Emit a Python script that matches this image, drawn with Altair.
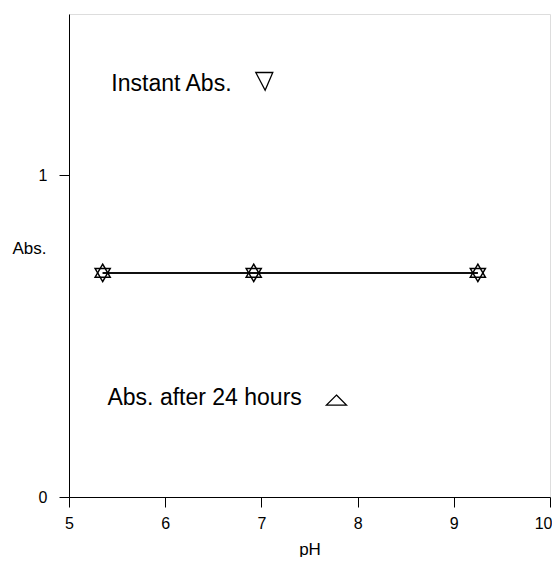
import altair as alt
import pandas as pd

# Data
ph = [5.35, 6.92, 9.25]
abs_instant = [0.696, 0.696, 0.696]
abs_24h = [0.696, 0.696, 0.696]

# Legend-like annotations inside the plot (data coordinates)
ann_text = ["Instant Abs.", "Abs. after 24 hours"]
ann_text_x = [5.44, 5.40]
ann_text_y = [1.283, 0.307]
ann_sym_x = [7.03, 7.78]
ann_sym_y = [1.292, 0.301]

df = pd.DataFrame({"pH": ph, "instant": abs_instant, "after24": abs_24h})
ann = pd.DataFrame({"label": ann_text, "tx": ann_text_x, "ty": ann_text_y,
                    "sx": ann_sym_x, "sy": ann_sym_y})

FONT = "Liberation Sans"
UP = "M0,-1L0.87,0.5L-0.87,0.5Z"
DOWN = "M0,1L0.87,-0.5L-0.87,-0.5Z"

xscale = alt.Scale(domain=[5, 10], nice=False, zero=False)
yscale = alt.Scale(domain=[0, 1.5], nice=False)

xaxis = alt.Axis(values=[5, 6, 7, 8, 9, 10], format="d", grid=False, tickSize=10,
                 labelPadding=8, labelFontSize=16, labelFont=FONT, labelColor="black",
                 labelAlign=alt.expr("datum.value == 10 ? 'right' : 'center'"),
                 labelOffset=alt.expr("datum.value == 10 ? 2 : 0"),
                 domainColor="black", tickColor="black", title="pH",
                 titleFont=FONT, titleFontSize=17, titleFontWeight="normal",
                 titleColor="black", titleY=57, titleBaseline="alphabetic",
                 labelFlush=False)
yaxis = alt.Axis(values=[0, 1], format="d", grid=False, tickSize=10, labelPadding=12,
                 labelFontSize=16, labelFont=FONT, labelColor="black",
                 domainColor="black", tickColor="black", title="Abs.",
                 titleAngle=0, titleX=-40, titleY=234, titleAlign="center",
                 titleBaseline="middle", titleFont=FONT, titleFontSize=17,
                 titleFontWeight="normal", titleColor="black")

base = alt.Chart(df)

line = base.mark_line(color="black", strokeWidth=1.5).encode(
    x=alt.X("pH:Q", scale=xscale, axis=xaxis),
    y=alt.Y("instant:Q", scale=yscale, axis=yaxis),
)
line2 = base.mark_line(color="black", strokeWidth=1.5).encode(
    x=alt.X("pH:Q", scale=xscale),
    y=alt.Y("after24:Q", scale=yscale),
)
pts_down = base.mark_point(shape=DOWN, filled=False, color="black",
                           size=300, strokeWidth=1.5, opacity=1).encode(
    x=alt.X("pH:Q", scale=xscale),
    y=alt.Y("instant:Q", scale=yscale),
)
pts_up = base.mark_point(shape=UP, filled=False, color="black",
                         size=300, strokeWidth=1.5, opacity=1).encode(
    x=alt.X("pH:Q", scale=xscale),
    y=alt.Y("after24:Q", scale=yscale),
)

ann_base = alt.Chart(ann)
ann_texts = ann_base.mark_text(align="left", baseline="middle", font=FONT,
                               fontSize=23, color="black").encode(
    x=alt.X("tx:Q", scale=xscale),
    y=alt.Y("ty:Q", scale=yscale),
    text="label:N",
)
sym_down = ann_base.transform_filter(alt.datum.label == "Instant Abs.").mark_point(
    shape="M-1,-1L1,-1L0.1,1.1Z", filled=False, color="black",
    size=289, strokeWidth=1.3, opacity=1).encode(
    x=alt.X("sx:Q", scale=xscale),
    y=alt.Y("sy:Q", scale=yscale),
)
sym_up = ann_base.transform_filter(alt.datum.label != "Instant Abs.").mark_point(
    shape="M0,-0.5L1,0.5L-1,0.5Z", filled=False, color="black",
    size=400, strokeWidth=1.3, opacity=1).encode(
    x=alt.X("sx:Q", scale=xscale),
    y=alt.Y("sy:Q", scale=yscale),
)

chart = alt.layer(line, line2, pts_down, pts_up, ann_texts, sym_down, sym_up).properties(
    width=481, height=483,
    autosize=alt.AutoSizeParams(type="none"),
    padding={"left": 61, "top": 6, "right": 2, "bottom": 60},
).configure_view(stroke="black", strokeWidth=1.2).configure(background="white")

chart.save("out.html", embed_options={"renderer": "svg", "actions": False})
